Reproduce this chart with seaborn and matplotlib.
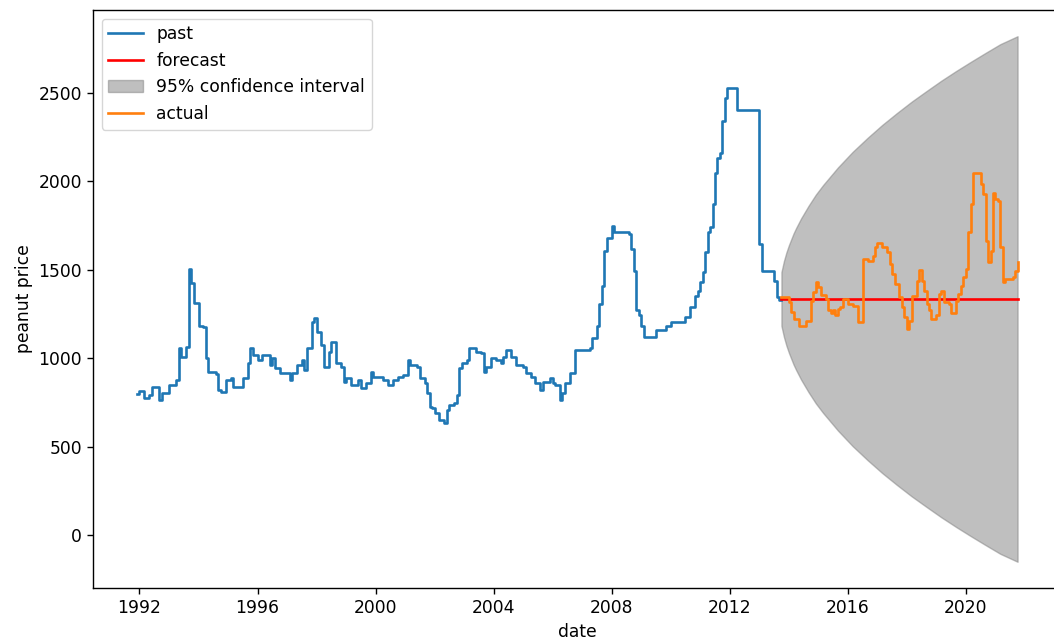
import matplotlib
matplotlib.use("Agg")
import matplotlib.pyplot as plt
import pandas as pd
import seaborn as sns

# Monthly peanut price (change points of the monthly series)
past_dates = [
    "1991-12", "1992-01", "1992-03", "1992-05", "1992-06", "1992-09", "1992-10",
    "1993-01", "1993-04", "1993-05", "1993-06", "1993-08", "1993-09", "1993-10",
    "1993-11", "1994-01", "1994-03", "1994-04", "1994-05", "1994-08", "1994-09",
    "1994-10", "1994-12", "1995-02", "1995-03", "1995-07", "1995-09", "1995-10",
    "1995-11", "1996-01", "1996-03", "1996-06", "1996-07", "1996-08", "1996-10",
    "1997-02", "1997-03", "1997-05", "1997-07", "1997-08", "1997-09", "1997-11",
    "1997-12", "1998-01", "1998-03", "1998-04", "1998-06", "1998-07", "1998-09",
    "1998-11", "1998-12", "1999-01", "1999-03", "1999-06", "1999-07", "1999-09",
    "1999-11", "1999-12", "2000-04", "2000-06", "2000-08", "2000-10", "2000-12",
    "2001-02", "2001-03", "2001-06", "2001-07", "2001-09", "2001-10", "2001-11",
    "2001-12", "2002-01", "2002-03", "2002-05", "2002-06", "2002-07", "2002-09",
    "2002-10", "2002-11", "2002-12", "2003-02", "2003-03", "2003-06", "2003-08",
    "2003-09", "2003-10", "2003-12", "2004-02", "2004-04", "2004-05", "2004-06",
    "2004-08", "2004-10", "2005-01", "2005-02", "2005-04", "2005-06", "2005-08",
    "2005-09", "2005-12", "2006-01", "2006-02", "2006-04", "2006-05", "2006-06",
    "2006-08", "2006-10", "2007-04", "2007-05", "2007-07", "2007-08", "2007-09",
    "2007-10", "2007-11", "2008-01", "2008-02", "2008-08", "2008-09", "2008-10",
    "2008-11", "2008-12", "2009-01", "2009-02", "2009-07", "2009-11", "2010-01",
    "2010-07", "2010-09", "2010-11", "2010-12", "2011-01", "2011-02", "2011-03",
    "2011-04", "2011-05", "2011-06", "2011-07", "2011-08", "2011-09", "2011-10",
    "2011-11", "2011-12", "2012-04", "2013-01", "2013-02", "2013-07", "2013-08",
    "2013-09", "2013-10",
]
past_values = [
    800, 814, 773, 790, 835, 762, 801,
    846, 875, 1055, 1004, 1061, 1507, 1428,
    1311, 1185, 1174, 999, 920, 913, 818,
    807, 875, 886, 835, 886, 971, 1055,
    1016, 988, 1016, 959, 999, 942, 914,
    875, 914, 959, 988, 931, 1055, 1204,
    1225, 1146, 1072, 948, 1033, 1089, 971,
    950, 865, 886, 846, 875, 830, 858,
    922, 893, 875, 846, 875, 893, 903,
    988, 959, 950, 886, 858, 801, 724,
    717, 688, 649, 632, 705, 734, 745,
    790, 942, 971, 988, 1055, 1033, 1027,
    922, 950, 999, 988, 971, 1004, 1044,
    1006, 959, 950, 914, 893, 858, 818,
    865, 886, 858, 846, 762, 801, 858,
    914, 1044, 1055, 1112, 1185, 1309, 1411,
    1608, 1683, 1749, 1712, 1704, 1620, 1495,
    1270, 1242, 1185, 1119, 1157, 1185, 1204,
    1232, 1288, 1354, 1383, 1429, 1486, 1599,
    1712, 1740, 1872, 2050, 2135, 2163, 2342,
    2474, 2530, 2402, 1646, 1495, 1439, 1345,
    1332, 1332,
]

# Point forecast over the hold-out period
forecast_dates = ["2013-10", "2021-10"]
forecast_values = [1335, 1335]

# 95% confidence band of the forecast
ci_dates = [
    "2013-10", "2013-11", "2013-12", "2014-01", "2014-02", "2014-03", "2014-04",
    "2014-06", "2014-09", "2014-12", "2015-03", "2015-09", "2016-03", "2016-09",
    "2017-03", "2017-09", "2018-03", "2018-09", "2019-03", "2019-09", "2020-03",
    "2020-09", "2021-03", "2021-10",
]
ci_upper = [
    1487, 1550, 1598, 1639, 1675, 1707, 1737,
    1791, 1862, 1926, 1980, 2080, 2168, 2247,
    2320, 2388, 2452, 2512, 2570, 2625, 2677,
    2728, 2777, 2822,
]
ci_lower = [
    1183, 1120, 1072, 1031, 995, 963, 933,
    879, 808, 744, 690, 590, 502, 423,
    350, 282, 218, 158, 100, 45, -7,
    -58, -107, -152,
]

# Observed prices over the hold-out period
actual_dates = [
    "2013-10", "2014-01", "2014-02", "2014-03", "2014-05", "2014-08", "2014-10",
    "2014-11", "2014-12", "2015-01", "2015-02", "2015-04", "2015-05", "2015-06",
    "2015-07", "2015-08", "2015-09", "2015-10", "2015-11", "2016-01", "2016-03",
    "2016-05", "2016-07", "2016-09", "2016-11", "2016-12", "2017-01", "2017-03",
    "2017-05", "2017-06", "2017-07", "2017-08", "2017-10", "2017-11", "2017-12",
    "2018-01", "2018-02", "2018-03", "2018-05", "2018-06", "2018-07", "2018-08",
    "2018-09", "2018-10", "2018-11", "2019-01", "2019-02", "2019-03", "2019-04",
    "2019-06", "2019-07", "2019-09", "2019-10", "2019-11", "2019-12", "2020-01",
    "2020-02", "2020-03", "2020-04", "2020-07", "2020-08", "2020-09", "2020-10",
    "2020-11", "2020-12", "2021-01", "2021-02", "2021-03", "2021-04", "2021-05",
    "2021-08", "2021-09", "2021-10",
]
actual_values = [
    1349, 1317, 1260, 1223, 1185, 1213, 1326,
    1373, 1430, 1401, 1360, 1336, 1270, 1254,
    1270, 1242, 1279, 1292, 1336, 1308, 1298,
    1204, 1561, 1552, 1580, 1627, 1650, 1627,
    1599, 1533, 1477, 1420, 1345, 1288, 1232,
    1166, 1213, 1354, 1439, 1499, 1439, 1383,
    1308, 1270, 1223, 1242, 1364, 1383, 1317,
    1308, 1254, 1326, 1364, 1411, 1458, 1505,
    1712, 1872, 2050, 1985, 1928, 1665, 1542,
    1608, 1937, 1900, 1890, 1627, 1430, 1449,
    1458, 1495, 1542,
]

plt.rcParams.update({
    "font.size": 12.3,
    "axes.linewidth": 1.0,
    "xtick.major.size": 4.4,
    "ytick.major.size": 4.4,
    "xtick.major.width": 1.0,
    "ytick.major.width": 1.0,
})
LW = 1.9

fig = plt.figure(figsize=(10.54, 6.43), dpi=100)
ax = fig.add_axes([0.0882, 0.0855, 0.919, 0.899])

sns.lineplot(x=pd.to_datetime(past_dates), y=past_values, ax=ax,
             color="#1f77b4", label="past", drawstyle="steps-post", linewidth=LW)
sns.lineplot(x=pd.to_datetime(forecast_dates), y=forecast_values, ax=ax,
             color="red", label="forecast", linewidth=LW)
ax.fill_between(pd.to_datetime(ci_dates), ci_lower, ci_upper,
                color="gray", alpha=0.5, label="95% confidence interval")
sns.lineplot(x=pd.to_datetime(actual_dates), y=actual_values, ax=ax,
             color="#ff7f0e", label="actual", drawstyle="steps-post", linewidth=LW)

ax.set_xlabel("date")
ax.set_ylabel("peanut price")
ax.legend(loc="upper left")

fig.savefig("out.png", dpi=100)
